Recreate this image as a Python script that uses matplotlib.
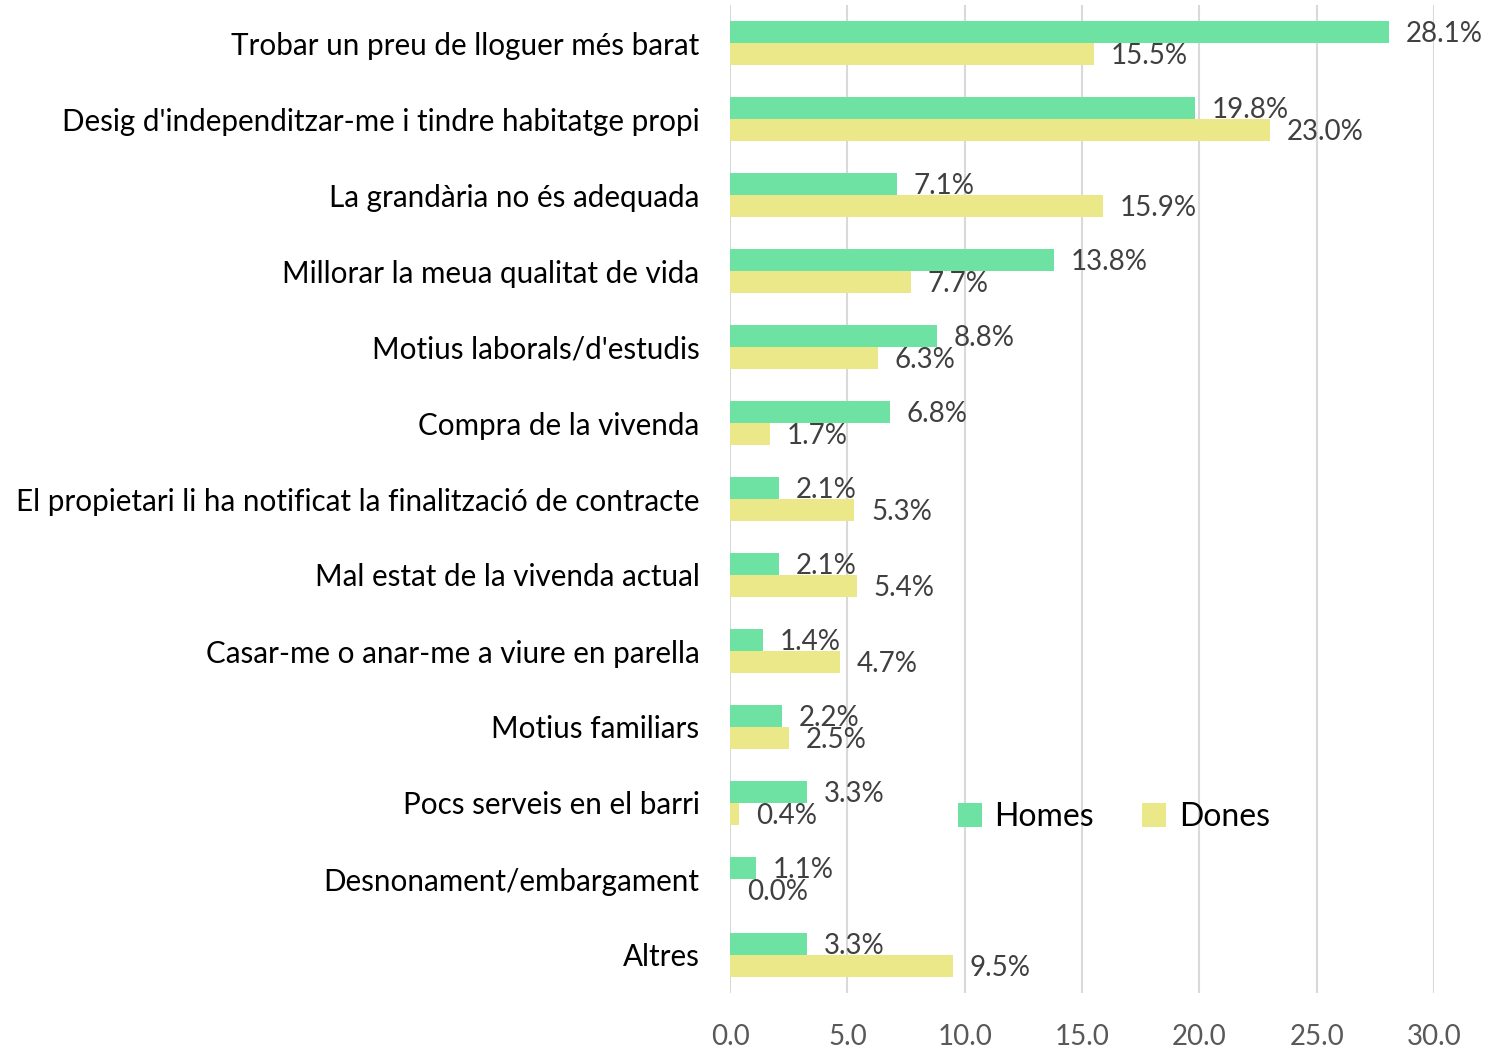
import matplotlib.pyplot as plt
import numpy as np
import matplotlib.ticker as ticker

plt.rcParams['font.family'] = ['Lato', 'DejaVu Sans']

categories = ["Trobar un preu de lloguer més barat",
              "Desig d'independitzar-me i tindre habitatge propi",
              "La grandària no és adequada",
              "Millorar la meua qualitat de vida",
              "Motius laborals/d'estudis",
              "Compra de la vivenda",
              "El propietari li ha notificat la finalització de contracte",
              "Mal estat de la vivenda actual",
              "Casar-me o anar-me a viure en parella",
              "Motius familiars",
              "Pocs serveis en el barri",
              "Desnonament/embargament",
              "Altres"]
homes = [28.1, 19.8, 7.1, 13.8, 8.8, 6.8, 2.1, 2.1, 1.4, 2.2, 3.3, 1.1, 3.3]
dones = [15.5, 23.0, 15.9, 7.7, 6.3, 1.7, 5.3, 5.4, 4.7, 2.5, 0.4, 0.0, 9.5]
xticks = [0, 5, 10, 15, 20, 25, 30]

green = "#6EE2A2"
yellow = "#EBE88A"

fig = plt.figure(figsize=(15.11, 10.48), dpi=100)
ax = fig.add_axes([730 / 1511, 1 - 993 / 1048, 704 / 1511, 988 / 1048])

y = np.arange(len(categories))
h = 0.29
ax.barh(y - h / 2, homes, height=h, color=green, label="Homes", zorder=3)
ax.barh(y + h / 2, dones, height=h, color=yellow, label="Dones", zorder=3)

for yi, v in zip(y - h / 2, homes):
    ax.annotate(f"{v:.1f}%", (v, yi), xytext=(12, -1.5), textcoords="offset points",
                va="center", ha="left", fontsize=20, color="#404040", zorder=4)
for yi, v in zip(y + h / 2, dones):
    ax.annotate(f"{v:.1f}%", (v, yi), xytext=(12, -1.5), textcoords="offset points",
                va="center", ha="left", fontsize=20, color="#404040", zorder=4)

ax.set_ylim(len(categories) - 0.5, -0.5)
ax.set_xlim(0, 30)
ax.set_yticks(y)
ax.set_yticklabels(categories, fontsize=21.3, color="black")
ax.set_xticks(xticks)
ax.xaxis.set_major_formatter(ticker.FormatStrFormatter('%0.1f'))
ax.tick_params(axis='x', length=0, pad=22, labelsize=20, labelcolor="#595959")
ax.tick_params(axis='y', length=0, pad=22)
ax.grid(axis='x', color="#D9D9D9", linewidth=1.5, zorder=0)
for s in ax.spines.values():
    s.set_visible(False)

ax.legend(loc='center', bbox_to_anchor=(0.545, 0.178), ncol=2, frameon=False,
          fontsize=23, handlelength=0.75, handleheight=0.75, handletextpad=0.4,
          columnspacing=1.5)

fig.savefig("out.png", dpi=100)
